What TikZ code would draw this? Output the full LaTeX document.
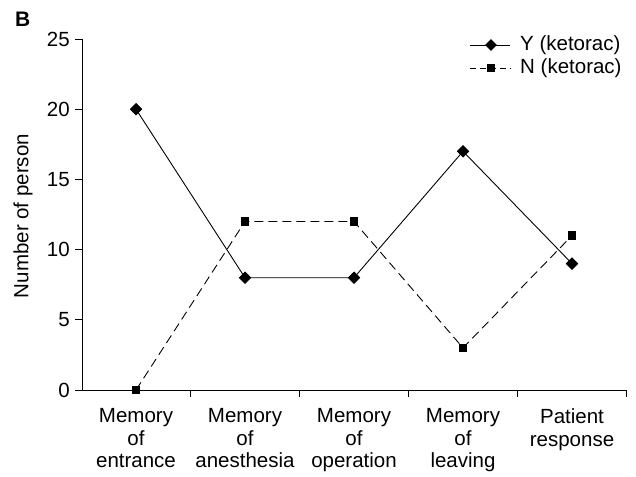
\documentclass[tikz,border=0pt]{standalone}
\usepackage{fontspec}
\setmainfont{Liberation Sans}
\usetikzlibrary{shapes.geometric}
\begin{document}
\begin{tikzpicture}[x=1pt,y=-1pt,
  axisline/.style={line width=0.9pt,black},
  yser/.style={line width=0.9pt,black},
  nser/.style={line width=0.9pt,black,dash pattern=on 9pt off 5pt},
  dmark/.style={diamond,fill=black,draw=none,minimum size=12pt,inner sep=0pt},
  smark/.style={rectangle,fill=black,draw=none,minimum size=8pt,inner sep=0pt},
  lab/.style={font=\fontsize{20.5}{22.5}\selectfont,inner sep=0pt},
  cat/.style={lab,align=center,anchor=north}]
\useasboundingbox (0,0) rectangle (636,476);
% panel letter
\node[anchor=south west,inner sep=0pt,font=\fontsize{21}{24}\selectfont\bfseries] (B) at (15,27) {B};
% axes
\coordinate (o) at (82,390);
\coordinate (ytop) at (82,39);
\coordinate (xend) at (626,390);
\draw[axisline] (ytop) -- (o) -- (xend);
% y ticks and labels
\foreach \v/\yy in {0/390,5/319.8,10/249.6,15/179.4,20/109.2,25/39}{
  \draw[axisline] (75,\yy) -- (82,\yy);
  \node[lab,anchor=east] (t\v) at (70,\yy) {\v};
}
% x ticks
\foreach \xx in {190,299,408,517,626}{
  \draw[axisline] (\xx,390) -- (\xx,397);
}
% axis title
\node[lab,rotate=90] (ytitle) at (23,216) {Number of person};
% category labels
\node[cat] (c1) at (136,408.5) {Memory\\of\\entrance};
\node[cat] (c2) at (245,408.5) {Memory\\of\\anesthesia};
\node[cat] (c3) at (354,408.5) {Memory\\of\\operation};
\node[cat] (c4) at (463,408.5) {Memory\\of\\leaving};
\node[cat] (c5) at (572,408.5) {Patient\\response};
% N series
\node[smark] (n1) at (136,390) {};
\node[smark] (n2) at (245,221.5) {};
\node[smark] (n3) at (354,221.5) {};
\node[smark] (n4) at (463,347.9) {};
\node[smark] (n5) at (572,235.6) {};
\draw[nser] (n1.center) -- (n2.center) -- (n3.center) -- (n4.center) -- (n5.center);
% Y series
\node[dmark] (y1) at (136,109.2) {};
\node[dmark] (y2) at (245,277.7) {};
\node[dmark] (y3) at (354,277.7) {};
\node[dmark] (y4) at (463,151.3) {};
\node[dmark] (y5) at (572,263.6) {};
\draw[yser] (y1.center) -- (y2.center) -- (y3.center) -- (y4.center) -- (y5.center);
% redraw markers on top
\foreach \p in {n1,n2,n3,n4,n5}{\fill (\p.north west) rectangle (\p.south east);}
\foreach \p in {y1,y2,y3,y4,y5}{\fill (\p.north) -- (\p.east) -- (\p.south) -- (\p.west) -- cycle;}
% legend
\coordinate (lya) at (470,45);
\coordinate (lyb) at (510,45);
\draw[yser] (lya) -- (lyb);
\node[dmark] (lym) at (491,45) {};
\node[lab,anchor=west] (lyt) at (520,45) {Y (ketorac)};
\coordinate (lna) at (470,68);
\coordinate (lnb) at (511,68);
\draw[line width=0.9pt,dash pattern=on 6pt off 4pt] (lna) -- (lnb);
\node[smark] (lnm) at (491,68) {};
\node[lab,anchor=west] (lnt) at (520,68) {N (ketorac)};
\end{tikzpicture}
\end{document}
